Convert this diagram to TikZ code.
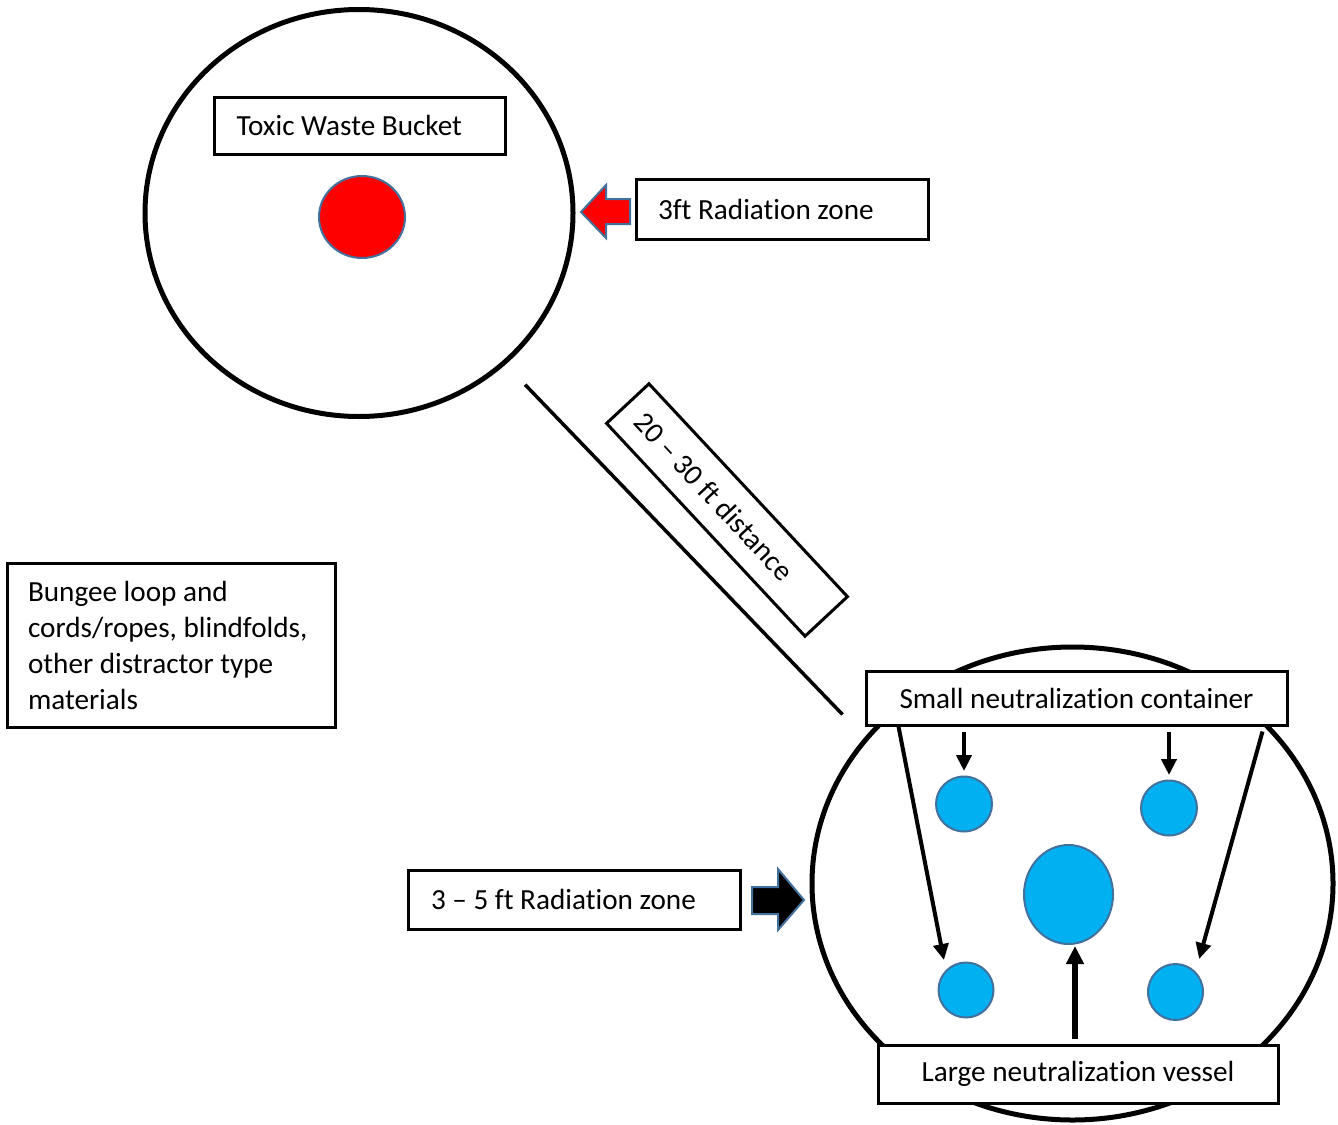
\documentclass[tikz,border=0pt]{standalone}
\usepackage{fontspec}
\setmainfont[Ligatures=NoCommon]{Carlito}
\usepackage{xcolor}
\usetikzlibrary{arrows.meta,shapes.geometric}

\definecolor{vesselblue}{HTML}{00B0F0}
\definecolor{rimblue}{HTML}{41719C}

\begin{document}
\begin{tikzpicture}[
    x=0.5pt, y=-0.5pt,
    font=\fontsize{14.6}{18}\selectfont,
    zone/.style={draw,ellipse,line width=2.5pt,inner sep=0pt},
    tag/.style={draw,fill=white,line width=1.5pt,inner sep=0pt},
    disc/.style={ellipse,draw=rimblue,line width=1pt,fill=vesselblue,inner sep=0pt},
    arr/.style={-{Triangle[length=8pt,width=7.5pt]},line width=2pt},
    blockarrow/.style={draw=rimblue,line width=1pt,line join=miter},
]
    \useasboundingbox (0,0) rectangle (1338,1124);

    % waste side
    \node[zone,minimum width=214pt,minimum height=203.5pt] (waste) at (359,213) {};
    \node[tag,inner xsep=11pt,text width=123.5pt,align=flush left,minimum height=28.5pt]
        (bucket) at (360,125.5) {Toxic Waste Bucket};
    \node[ellipse,draw=rimblue,line width=1pt,fill=red,inner sep=0pt,
        minimum width=43pt,minimum height=41pt] (toxic) at (362,217) {};
    \node[tag,inner xsep=11pt,text width=124pt,align=flush left,minimum height=30pt]
        (wastezone) at (782,209) {3ft Radiation zone};
    \draw[blockarrow,fill=red] (581,212) -- (606,185) -- (606,199) -- (630,199)
        -- (630,224) -- (606,224) -- (606,238) -- cycle;

    % neutralization side
    \node[zone,minimum width=260.5pt,minimum height=236.5pt] (neutral) at (1072.5,883.5) {};
    \node[disc,minimum width=28pt,minimum height=27.5pt] (smallnw) at (964,804) {};
    \node[disc,minimum width=28pt,minimum height=27.5pt] (smallne) at (1169,808) {};
    \node[disc,minimum width=27.5pt,minimum height=27.5pt] (smallsw) at (966,990) {};
    \node[disc,minimum width=27.5pt,minimum height=28pt] (smallse) at (1175.5,992) {};
    \node[disc,minimum width=44.5pt,minimum height=49.5pt] (large) at (1068.5,894.5) {};
    \node[tag,align=center,minimum width=210.5pt,minimum height=27pt]
        (smalltag) at (1076.5,698) {Small neutralization container};
    \node[tag,align=center,minimum width=200pt,minimum height=29pt]
        (largetag) at (1078,1074) {Large neutralization vessel};
    \node[tag,inner xsep=11.5pt,text width=143pt,align=flush left,minimum height=29.5pt]
        (neutralzone) at (574,899.5) {3 -- 5 ft Radiation zone};
    \draw[blockarrow,fill=black] (804,900) -- (778,869) -- (778,887) -- (752,887)
        -- (752,914) -- (778,914) -- (778,930) -- cycle;

    \draw[arr,shorten <=2.5pt,shorten >=2.25pt] (smalltag.south -| smallnw.north) -- (smallnw.north);
    \draw[arr,shorten <=2.5pt,shorten >=2.25pt] (smalltag.south -| smallne.north) -- (smallne.north);
    \draw[arr,shorten >=5pt] ([xshift=17pt]smalltag.south west) -- (smallsw.north west);
    \draw[arr,shorten >=6.5pt] ([xshift=-13pt,yshift=-2.5pt]smalltag.south east) -- (smallse.north east);
    \draw[-{Triangle[length=9pt,width=8.5pt]},line width=3pt,shorten >=0.5pt]
        ([xshift=-1.5pt,yshift=2.5pt]largetag.north) -- ([xshift=3.25pt]large.south);

    % distance between zones
    \draw[line width=1.75pt] ([shift={(6.5pt,-13pt)}]waste.south east)
        -- ([shift={(-11pt,6pt)}]smalltag.south west);
    \node[tag,rotate=-47,inner xsep=9pt,text width=127.5pt,align=flush left,minimum height=29pt]
        (distance) at (727,510) {20 -- 30 ft distance};

    % props
    \node[tag,inner xsep=10.5pt,text width=143pt,align=flush left,minimum height=82pt]
        (props) at (171,645)
        {Bungee loop and\\cords/ropes, blindfolds,\\other distractor type\\materials};
\end{tikzpicture}
\end{document}
